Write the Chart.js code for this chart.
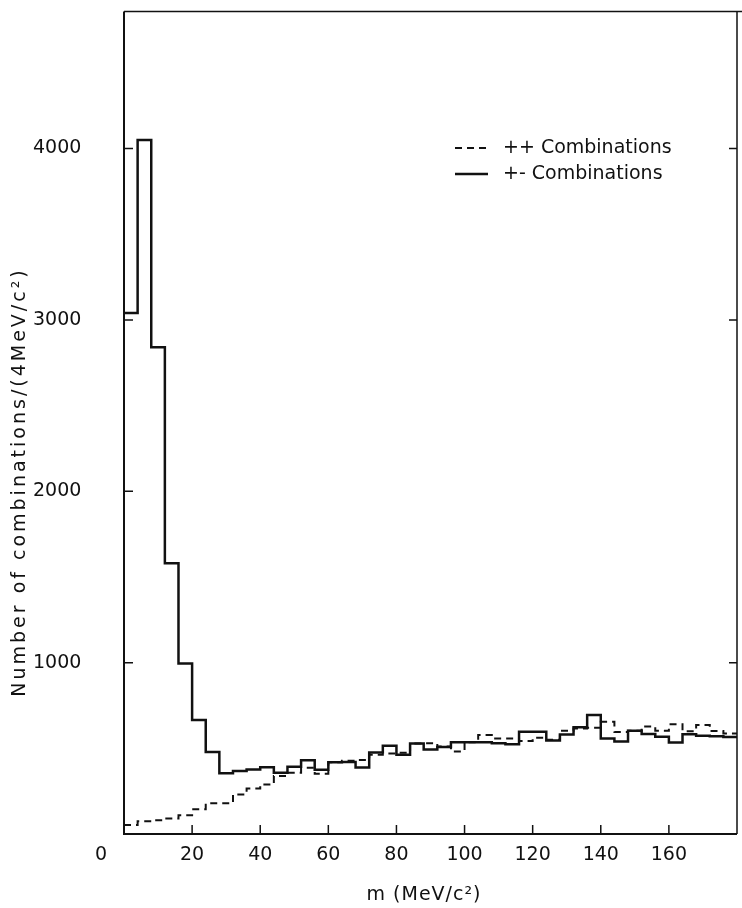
<!DOCTYPE html>
<html>
<head>
<meta charset="utf-8">
<script src="https://cdn.jsdelivr.net/npm/chart.js@4.4.0/dist/chart.umd.min.js"></script>
<style>
  html, body { margin: 0; padding: 0; background: #ffffff; }
  #wrap { width: 742px; height: 908px; position: relative; }
</style>
</head>
<body>
<div id="wrap"><canvas id="c" width="742" height="908"></canvas></div>
<script>
// ---- data ----
const binEdges = [0,4,8,12,16,20,24,28,32,36,40,44,48,52,56,60,64,68,72,76,80,84,88,92,96,100,
                  104,108,112,116,120,124,128,132,136,140,144,148,152,156,160,164,168,172,176,180];
const plusMinus = [3040,4050,2840,1580,995,665,478,355,367,377,390,358,392,430,375,418,420,388,476,515,
                   462,528,493,507,536,536,536,530,524,596,596,546,580,623,695,557,540,603,583,567,
                   534,582,573,571,566];
const plusPlus  = [52,74,80,91,109,144,179,179,231,266,289,338,357,386,351,418,428,432,462,470,
                   474,528,530,510,482,536,577,557,557,542,562,550,603,615,620,655,595,603,628,603,
                   640,600,636,601,586];
const seriesLabels = ['++ Combinations', '+- Combinations'];
const xTickValues = [20,40,60,80,100,120,140,160];
const yTickValues = [1000,2000,3000,4000];
const rightTickValues = [1000,3000,4000];
const xTitle = 'm (MeV/c\u00B2)';
const yTitle = 'Number of combinations/(4MeV/c\u00B2)';

const INK = '#111111';
const FAMILY = '"DejaVu Sans", "Liberation Sans", sans-serif';

function toSteps(values) {
  const pts = values.map((v, i) => ({ x: binEdges[i], y: v }));
  pts.push({ x: binEdges[values.length], y: values[values.length - 1] });
  return pts;
}

const decorPlugin = {
  id: 'decor',
  afterDatasetsDraw(chart) {
    const { ctx, chartArea: a, scales: { x, y } } = chart;
    ctx.save();
    ctx.strokeStyle = INK;
    ctx.fillStyle = INK;
    // frame
    ctx.lineWidth = 2;
    ctx.beginPath();
    ctx.moveTo(a.left, a.top); ctx.lineTo(a.left, a.bottom); ctx.lineTo(a.right, a.bottom);
    ctx.stroke();
    ctx.lineWidth = 1.5;
    ctx.beginPath();
    ctx.moveTo(a.left, a.top); ctx.lineTo(742, a.top);
    ctx.moveTo(a.right, a.top); ctx.lineTo(a.right, a.bottom);
    ctx.stroke();
    // inward ticks
    ctx.beginPath();
    xTickValues.forEach(v => { const px = x.getPixelForValue(v); ctx.moveTo(px, a.bottom); ctx.lineTo(px, a.bottom - 9); });
    yTickValues.forEach(v => { const py = y.getPixelForValue(v); ctx.moveTo(a.left, py); ctx.lineTo(a.left + 9, py); });
    rightTickValues.forEach(v => { const py = y.getPixelForValue(v); ctx.moveTo(a.right, py); ctx.lineTo(a.right - 8, py); });
    ctx.stroke();

    // corner "0" label
    ctx.font = '19px ' + FAMILY;
    ctx.textAlign = 'center';
    ctx.textBaseline = 'middle';
    ctx.fillText('0', x.getPixelForValue(0) - 23, y.getPixelForValue(0) + 21);

    // x axis title
    ctx.letterSpacing = '1px';
    ctx.fillText(xTitle, 424, 895);

    // y axis title
    ctx.save();
    ctx.letterSpacing = '3px';
    ctx.translate(20, 482);
    ctx.rotate(-Math.PI / 2);
    ctx.textAlign = 'center';
    ctx.fillText(yTitle, 0, 0);
    ctx.restore();

    // legend
    ctx.letterSpacing = '0px';
    const rows = [148, 174];
    chart.data.datasets.forEach((ds, i) => {
      const ry = rows[i];
      ctx.save();
      ctx.lineWidth = ds.borderWidth;
      ctx.setLineDash(ds.borderDash || []);
      ctx.beginPath();
      ctx.moveTo(455, ry); ctx.lineTo(488, ry);
      ctx.stroke();
      ctx.restore();
      ctx.textAlign = 'left';
      ctx.fillText(ds.label, 503, ry);
    });
    ctx.restore();
  }
};

new Chart(document.getElementById('c'), {
  type: 'line',
  data: {
    datasets: [
      { label: seriesLabels[0], data: toSteps(plusPlus), stepped: true, borderColor: INK,
        borderWidth: 2, borderDash: [7, 5], pointRadius: 0, fill: false },
      { label: seriesLabels[1], data: toSteps(plusMinus), stepped: true, borderColor: INK,
        borderWidth: 2.5, pointRadius: 0, fill: false }
    ]
  },
  options: {
    responsive: false,
    animation: false,
    devicePixelRatio: 1,
    layout: { padding: { top: 10, right: 5, left: 33, bottom: 0 } },
    plugins: { legend: { display: false }, tooltip: { enabled: false } },
    scales: {
      x: {
        type: 'linear', min: 0, max: 180,
        grid: { display: false, drawTicks: false },
        border: { display: false },
        afterBuildTicks: s => { s.ticks = xTickValues.map(v => ({ value: v })); },
        ticks: {
          autoSkip: false, maxRotation: 0, padding: 10, color: INK,
          font: { family: FAMILY, size: 19 },
          callback: v => String(v)
        },
        afterFit: s => { s.height = 74; }
      },
      y: {
        type: 'linear', min: 0, max: 4800,
        grid: { display: false, drawTicks: false },
        border: { display: false },
        afterBuildTicks: s => { s.ticks = yTickValues.map(v => ({ value: v })); },
        ticks: {
          autoSkip: false, padding: 0, crossAlign: 'far', color: INK,
          font: { family: FAMILY, size: 19 },
          callback: v => String(v)
        },
        afterFit: s => { s.width = 91; }
      }
    }
  },
  plugins: [decorPlugin]
});
</script>
</body>
</html>
